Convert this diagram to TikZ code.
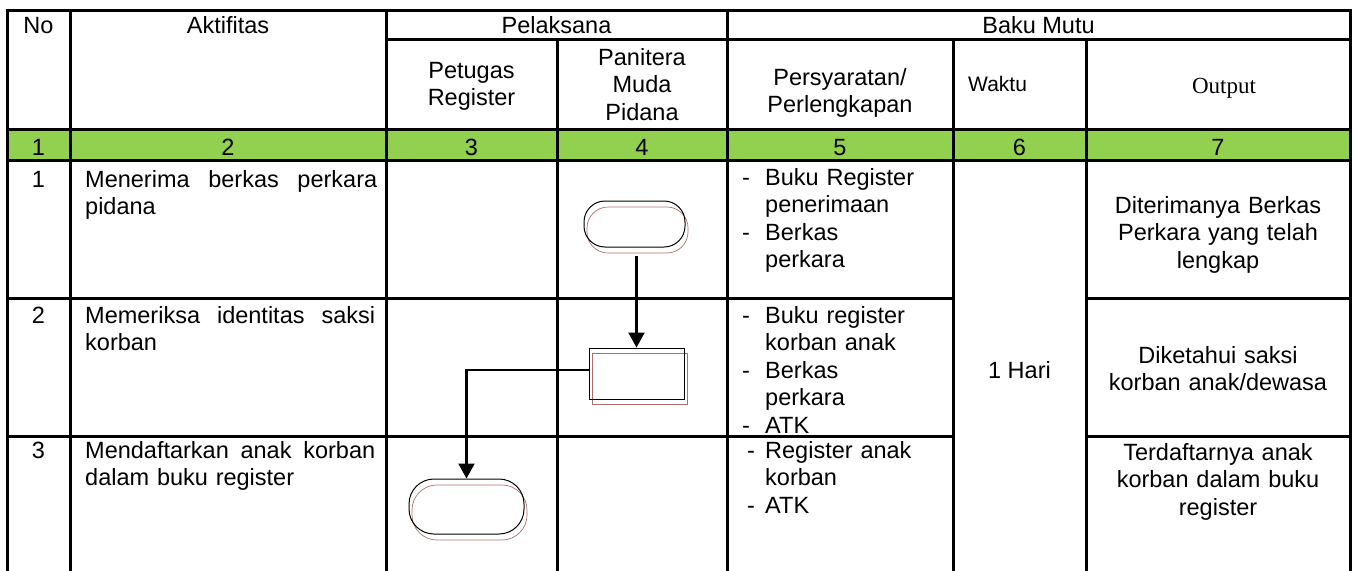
\documentclass[tikz,border=0pt]{standalone}
\usepackage{fontspec}
\setmainfont{Liberation Sans}
\newfontfamily\serifout{Liberation Serif}
\usetikzlibrary{arrows.meta}
\definecolor{hijau}{HTML}{92D050}
\definecolor{bayang}{RGB}{175,110,110}
\newcommand\myitem[1]{\makebox[#1][l]{-}}
\newcommand\myind[1]{\hspace*{#1}}
\begin{document}
\begin{tikzpicture}[x=1pt,y=-1pt,
  grid/.style={line width=3pt, line cap=rect},
  txt/.style={inner sep=0pt, font=\fontsize{23.5}{27.5}\selectfont},
  ctr/.style={txt, anchor=base, align=center, text width=#1},
  lft/.style={txt, anchor=base west, align=left, text width=#1},
  flowshape/.style={draw, line width=1pt, inner sep=0pt},
  shad/.style={draw=bayang, line width=0.7pt, inner sep=0pt},
  flow/.style={line width=2.2pt, -{Triangle[length=15pt,width=16pt]}}
]
\useasboundingbox (0,0) rectangle (1356,570);

% table
\fill[hijau] (7,129) rectangle (1350,160);
\draw[grid] (7,10) -- (1350,10);
\draw[grid] (7,10) -- (7,570);
\draw[grid] (1350,10) -- (1350,570);
\draw[grid] (386,39) -- (1350,39);
\draw[grid] (7,129) -- (1350,129);
\draw[grid] (7,160) -- (1350,160);
\draw[grid] (7,298) -- (953,298) (1086,298) -- (1350,298);
\draw[grid] (7,436) -- (953,436) (1086,436) -- (1350,436);
\draw[grid] (70,10) -- (70,570);
\draw[grid] (386,10) -- (386,570);
\draw[grid] (557,39) -- (557,570);
\draw[grid] (727,10) -- (727,570);
\draw[grid] (953,39) -- (953,570);
\draw[grid] (1086,39) -- (1086,570);

% header
\node[txt, anchor=base] (hNo) at (38.5,33) {No};
\node[txt, anchor=base] (hAkt) at (228,33) {Aktifitas};
\node[txt, anchor=base] (hPel) at (556.5,33) {Pelaksana};
\node[txt, anchor=base] (hBaku) at (1038.5,33) {Baku Mutu};
\node[ctr=160pt] (hPet) at (471.5,78) {Petugas\\Register};
\node[ctr=160pt] (hPan) at (642,65) {Panitera\\Muda\\Pidana};
\node[ctr=220pt] (hPers) at (840,85) {Persyaratan/\\Perlengkapan};
\node[inner sep=0pt, anchor=base west, font=\fontsize{21}{25}\selectfont] (hWak) at (968,91) {Waktu};
\node[inner sep=0pt, anchor=base, font=\serifout\fontsize{23}{27}\selectfont] (hOut) at (1224,93) {Output};

% numbering row
\node[txt, anchor=base] (n1) at (38.5,155) {1};
\node[txt, anchor=base] (n2) at (228,155) {2};
\node[txt, anchor=base] (n3) at (471.5,155) {3};
\node[txt, anchor=base] (n4) at (642,155) {4};
\node[txt, anchor=base] (n5) at (840,155) {5};
\node[txt, anchor=base] (n6) at (1019.5,155) {6};
\node[txt, anchor=base] (n7) at (1218,155) {7};

% row numbers
\node[txt, anchor=base] (r1) at (38.5,187) {1};
\node[txt, anchor=base] (r2) at (38.5,323) {2};
\node[txt, anchor=base] (r3) at (38.5,458) {3};

% activities
\node[lft=300pt] (a1) at (85,187) {\makebox[292pt][s]{Menerima\hfill berkas\hfill perkara}\\pidana};
\node[lft=300pt] (a2) at (85,323) {\makebox[290pt][s]{Memeriksa\hfill identitas\hfill saksi}\\korban};
\node[lft=300pt] (a3) at (85,458) {\makebox[290pt][s]{Mendaftarkan\hfill anak\hfill korban}\\dalam buku register};

% requirements
\node[lft=205pt] (p1) at (742,185) {\myitem{23pt}Buku Register\\\myind{23pt}penerimaan\\\myitem{23pt}Berkas\\\myind{23pt}perkara};
\node[lft=205pt] (p2) at (742,323) {\myitem{23pt}Buku register\\\myind{23pt}korban anak\\\myitem{23pt}Berkas\\\myind{23pt}perkara\\\myitem{23pt}ATK};
\node[lft=200pt] (p3) at (747,458) {\myitem{18pt}Register anak\\\myind{18pt}korban\\\myitem{18pt}ATK};

% time
\node[txt, anchor=base] (w1) at (1019.5,378) {1 Hari};

% outputs
\node[ctr=250pt] (o1) at (1218,213) {Diterimanya Berkas\\Perkara yang telah\\lengkap};
\node[ctr=250pt] (o2) at (1218,363) {Diketahui saksi\\korban anak/dewasa};
\node[ctr=250pt] (o3) at (1218,460) {Terdaftarnya anak\\korban dalam buku\\register};

% flowchart shadows
\node[shad, rounded corners=21pt, minimum width=101pt, minimum height=46pt] (t1s) at (637.5,230) {};
\node[shad, minimum width=95pt, minimum height=51pt] (b1s) at (639.5,378.5) {};
\node[shad, rounded corners=25pt, minimum width=115pt, minimum height=55pt] (t2s) at (469.5,512.5) {};

% flowchart shapes
\node[flowshape, rounded corners=21pt, minimum width=101pt, minimum height=46pt] (t1) at (634.5,224) {};
\node[flowshape, minimum width=95pt, minimum height=51pt] (b1) at (636.5,373.5) {};
\node[flowshape, rounded corners=25pt, minimum width=115pt, minimum height=55pt] (t2) at (466.5,506.5) {};

% connectors
\draw[flow, shorten <=8pt] (b1.north |- t1.south) -- (b1.north);
\draw[flow] ([yshift=3.5pt]b1.west) -| (t2.north);
\end{tikzpicture}
\end{document}
